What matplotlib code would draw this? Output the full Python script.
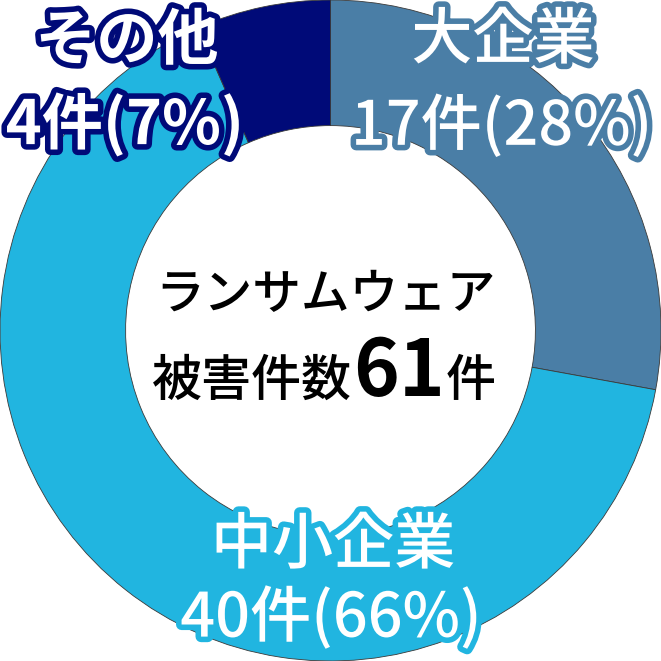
import matplotlib
matplotlib.use("Agg")
import matplotlib.pyplot as plt
import matplotlib.patheffects as pe
from matplotlib.offsetbox import TextArea, HPacker, AnnotationBbox

plt.rcParams['font.family'] = ['Noto Sans CJK JP', 'DejaVu Sans']

categories = ["大企業", "中小企業", "その他"]
counts = [17, 40, 4]
percents = [28, 66, 7]
colors = ["#4a7ea6", "#21b5e0", "#000a78"]
total = 61
center_line1 = "ランサムウェア"
center_line2 = "被害件数"

fig = plt.figure(figsize=(6.61, 6.61), dpi=100)
ax = fig.add_axes([0, 0, 1, 1])
ax.pie(counts, colors=colors, startangle=90, counterclock=False, radius=1.0,
       wedgeprops=dict(width=0.38, edgecolor="#3a3a3a", linewidth=0.6))
ax.set_xlim(-1.0, 1.0)
ax.set_ylim(-1.0, 1.0)
ax.set_aspect('equal')
ax.axis('off')

# label positions (axes fraction) and weights
label_pos = [((0.761, 0.938), (0.759, 0.808)),
             ((0.504, 0.174), (0.501, 0.064)),
             ((0.192, 0.937), (0.189, 0.811))]
weights = ["medium", "medium", "bold"]
for cat, n, p, c, (p1, p2), w in zip(categories, counts, percents, colors, label_pos, weights):
    effects = [pe.withStroke(linewidth=8, foreground=c)]
    ax.text(p1[0], p1[1], cat, transform=ax.transAxes, ha='center', va='center',
            fontsize=44, color='white', fontweight=w, path_effects=effects)
    ax.text(p2[0], p2[1], f"{n}件({p}%)", transform=ax.transAxes, ha='center', va='center',
            fontsize=44, color='white', fontweight=w, path_effects=effects)

# center text
ax.text(0.492, 0.553, center_line1, transform=ax.transAxes, ha='center', va='center',
        fontsize=35, color='black', fontweight='medium')
ta1 = TextArea(center_line2, textprops=dict(fontsize=36, color='black', fontweight='medium'))
ta2 = TextArea(str(total), textprops=dict(fontsize=56, color='black', fontweight='bold'))
ta3 = TextArea("件", textprops=dict(fontsize=36, color='black', fontweight='medium'))
box = HPacker(children=[ta1, ta2, ta3], align="baseline", pad=0, sep=1)
ab = AnnotationBbox(box, (0.49, 0.435), xycoords='axes fraction', frameon=False,
                    box_alignment=(0.5, 0.5))
ax.add_artist(ab)

fig.savefig("out.png", dpi=100)
